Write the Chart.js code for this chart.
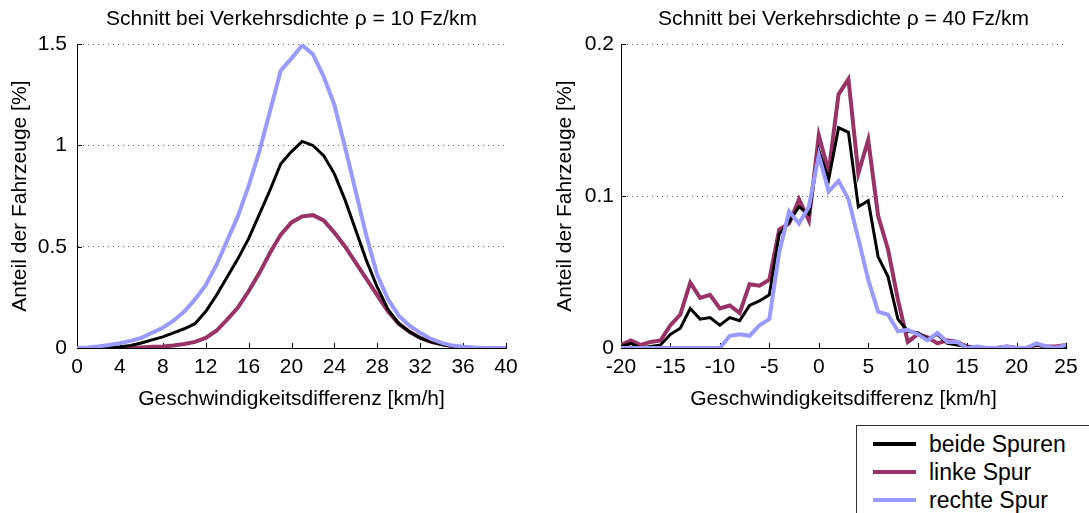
<!DOCTYPE html>
<html lang="de">
<head>
<meta charset="utf-8">
<title>Geschwindigkeitsdifferenz</title>
<script src="https://cdn.jsdelivr.net/npm/chart.js@4.4.1/dist/chart.umd.min.js"></script>
<style>
  html, body { margin: 0; padding: 0; background: #fff; }
  body { width: 1089px; height: 513px; position: relative; overflow: hidden;
         font-family: 'Liberation Sans', Arial, sans-serif; }
  .plot { position: absolute; top: 0; }
  #links { left: 0; }
  #rechts { left: 540px; }
  #legende { position: absolute; left: 856px; top: 425px; width: 260px; height: 110px;
             border: 1px solid #333; box-sizing: border-box; }
  .eintrag { position: absolute; left: 16px; height: 28px; line-height: 28px; font-size: 23px; color: #000; }
  .eintrag span.strich { position: absolute; left: 0; top: 12px; width: 43px; height: 4px; }
  .eintrag span.text { position: absolute; left: 56px; white-space: nowrap; }
</style>
</head>
<body>
<div class="plot" id="links"><canvas id="chart10" width="540" height="420"></canvas></div>
<div class="plot" id="rechts"><canvas id="chart40" width="549" height="420"></canvas></div>
<div id="legende"></div>

<script>
// Verkehrsdichte 10 Fz/km
const dv10 = [0, 1, 2, 3, 4, 5, 6, 7, 8, 9, 10, 11, 12, 13, 14, 15, 16, 17, 18, 19, 20,
  21, 22, 23, 24, 25, 26, 27, 28, 29, 30, 31, 32, 33, 34, 35, 36, 37, 38, 39, 40];
const beide10 = [0, 0, 0, 0.002, 0.006, 0.012, 0.025, 0.04, 0.055, 0.075, 0.095, 0.12, 0.18, 0.26,
  0.35, 0.44, 0.54, 0.66, 0.78, 0.91, 0.97, 1.02, 1.0, 0.95, 0.86, 0.73, 0.58, 0.43, 0.30, 0.19,
  0.12, 0.08, 0.05, 0.03, 0.017, 0.008, 0.003, 0, 0, 0, 0];
const links10 = [0, 0, 0, 0, 0, 0, 0.003, 0.006, 0.008, 0.012, 0.02, 0.03, 0.05, 0.085, 0.14,
  0.2, 0.28, 0.37, 0.47, 0.56, 0.62, 0.65, 0.656, 0.63, 0.57, 0.5, 0.42, 0.34, 0.26, 0.18, 0.12,
  0.08, 0.05, 0.03, 0.02, 0.008, 0, 0, 0, 0, 0];
const rechts10 = [0, 0.003, 0.008, 0.015, 0.024, 0.035, 0.05, 0.075, 0.1, 0.135, 0.18, 0.24, 0.31,
  0.41, 0.53, 0.65, 0.8, 0.97, 1.17, 1.37, 1.43, 1.495, 1.45, 1.34, 1.2, 0.99, 0.77, 0.55, 0.36,
  0.24, 0.16, 0.11, 0.075, 0.045, 0.025, 0.012, 0.006, 0.002, 0, 0, 0];

// Verkehrsdichte 40 Fz/km
const dv40 = [-20, -19, -18, -17, -16, -15, -14, -13, -12, -11, -10, -9, -8, -7, -6, -5, -4, -3,
  -2, -1, 0, 1, 2, 3, 4, 5, 6, 7, 8, 9, 10, 11, 12, 13, 14, 15, 16, 17, 18, 19, 20, 21, 22, 23, 24, 25];
const beide40 = [0.001, 0.003, 0, 0.001, 0.002, 0.009, 0.013, 0.026, 0.019, 0.02, 0.015, 0.02,
  0.018, 0.028, 0.031, 0.035, 0.075, 0.083, 0.093, 0.088, 0.13, 0.111, 0.145, 0.142, 0.093, 0.097,
  0.06, 0.047, 0.019, 0.011, 0.01, 0.006, 0.009, 0.003, 0.002, 0.001, 0, 0, 0, 0.001, 0, 0, 0.002,
  0.001, 0, 0.001];
const links40 = [0.002, 0.005, 0.002, 0.004, 0.005, 0.015, 0.022, 0.043, 0.033, 0.035, 0.026, 0.028,
  0.023, 0.042, 0.041, 0.045, 0.078, 0.082, 0.098, 0.084, 0.14, 0.116, 0.167, 0.177, 0.115, 0.137,
  0.087, 0.065, 0.032, 0.004, 0.009, 0.007, 0.003, 0.005, 0.004, 0.001, 0, 0, 0, 0.001, 0, 0, 0.002,
  0.001, 0.001, 0.002];
const rechts40 = [0, 0, 0, 0, 0, 0, 0, 0, 0, 0, 0, 0.008, 0.009, 0.008, 0.015, 0.019, 0.063, 0.09,
  0.082, 0.093, 0.127, 0.103, 0.11, 0.098, 0.072, 0.045, 0.024, 0.022, 0.011, 0.012, 0.009, 0.005,
  0.01, 0.004, 0.004, 0, 0.001, 0, 0, 0.001, 0, 0, 0.003, 0.001, 0, 0.002];

const seriesNames = ['beide Spuren', 'linke Spur', 'rechte Spur'];
const seriesColors = ['#000000', '#993366', '#9999ff'];
const seriesWidths = [3, 4, 4];
const seriesOrder = [1, 2, 0]; // rechte Spur oben

Chart.defaults.font.family = "'Liberation Sans', Arial, sans-serif";
Chart.defaults.color = '#000';

// kurze Tickstriche nach innen
const innenTicks = {
  id: 'innenTicks',
  beforeDatasetsDraw(chart) {
    const { ctx, chartArea, scales: { x, y } } = chart;
    ctx.save();
    ctx.strokeStyle = '#000';
    ctx.lineWidth = 1;
    ctx.beginPath();
    x.ticks.forEach(t => {
      const px = Math.round(x.getPixelForValue(t.value)) + 0.5;
      ctx.moveTo(px, chartArea.bottom);
      ctx.lineTo(px, chartArea.bottom - 5);
    });
    y.ticks.forEach(t => {
      const py = Math.round(y.getPixelForValue(t.value)) + 0.5;
      ctx.moveTo(chartArea.left, py);
      ctx.lineTo(chartArea.left + 5, py);
    });
    ctx.stroke();
    ctx.restore();
  }
};

// Zahlen ohne angehängte Nullen: 1 statt 1.0
const kurz = v => String(+v.toFixed(3));

function makeChart(id, titel, xs, reihen, xOpts, yOpts, lay) {
  const datasets = reihen.map((werte, i) => ({
    label: seriesNames[i],
    data: xs.map((x, k) => ({ x: x, y: werte[k] })),
    borderColor: seriesColors[i],
    borderWidth: seriesWidths[i],
    order: seriesOrder[i],
    pointRadius: 0,
    tension: 0,
    fill: false
  }));
  return new Chart(document.getElementById(id), {
    type: 'line',
    data: { datasets },
    options: {
      responsive: false,
      animation: false,
      layout: { padding: { left: 0, right: lay.right, top: 0, bottom: 0 } },
      plugins: {
        legend: { display: false },
        tooltip: { enabled: false },
        title: {
          display: true,
          text: titel,
          fullSize: false,
          font: { size: 21, weight: 'normal' },
          color: '#000',
          padding: { top: 7, bottom: 12 }
        }
      },
      scales: {
        x: {
          type: 'linear',
          min: xOpts.min,
          max: xOpts.max,
          afterFit(s) { s.height = 72; },
          ticks: { stepSize: xOpts.step, padding: 7, font: { size: 21 }, color: '#000',
                   maxRotation: 0, callback: kurz },
          grid: { drawOnChartArea: false, drawTicks: false },
          border: { display: true, color: '#000', width: 1 },
          title: { display: true, text: 'Geschwindigkeitsdifferenz [km/h]', font: { size: 21 },
                   color: '#000', padding: { top: 0, bottom: 8 } }
        },
        y: {
          min: yOpts.min,
          max: yOpts.max,
          afterFit(s) { s.width = lay.yWidth; },
          ticks: { stepSize: yOpts.step, padding: lay.tickPad, font: { size: 21 }, color: '#000',
                   callback: kurz },
          grid: { color: '#666', lineWidth: 1, drawTicks: false },
          border: { display: true, color: '#000', width: 1, dash: [1, 4] },
          title: { display: true, text: 'Anteil der Fahrzeuge [%]', font: { size: 21 },
                   color: '#000', padding: { top: lay.titlePad, bottom: 0 } }
        }
      }
    },
    plugins: [innenTicks]
  });
}

makeChart('chart10', 'Schnitt bei Verkehrsdichte ρ = 10 Fz/km', dv10,
  [beide10, links10, rechts10],
  { min: 0, max: 40, step: 4 }, { min: 0, max: 1.5, step: 0.5 },
  { right: 34, yWidth: 77, tickPad: 10, titlePad: 8 });

makeChart('chart40', 'Schnitt bei Verkehrsdichte ρ = 40 Fz/km', dv40,
  [beide40, links40, rechts40],
  { min: -20, max: 25, step: 5 }, { min: 0, max: 0.2, step: 0.1 },
  { right: 23, yWidth: 81, tickPad: 7, titlePad: 13 });

// Legende unten rechts
const legende = document.getElementById('legende');
seriesNames.forEach((name, i) => {
  const row = document.createElement('div');
  row.className = 'eintrag';
  row.style.top = (4 + i * 28) + 'px';
  const strich = document.createElement('span');
  strich.className = 'strich';
  strich.style.background = seriesColors[i];
  const text = document.createElement('span');
  text.className = 'text';
  text.textContent = name;
  row.appendChild(strich);
  row.appendChild(text);
  legende.appendChild(row);
});
</script>
</body>
</html>
